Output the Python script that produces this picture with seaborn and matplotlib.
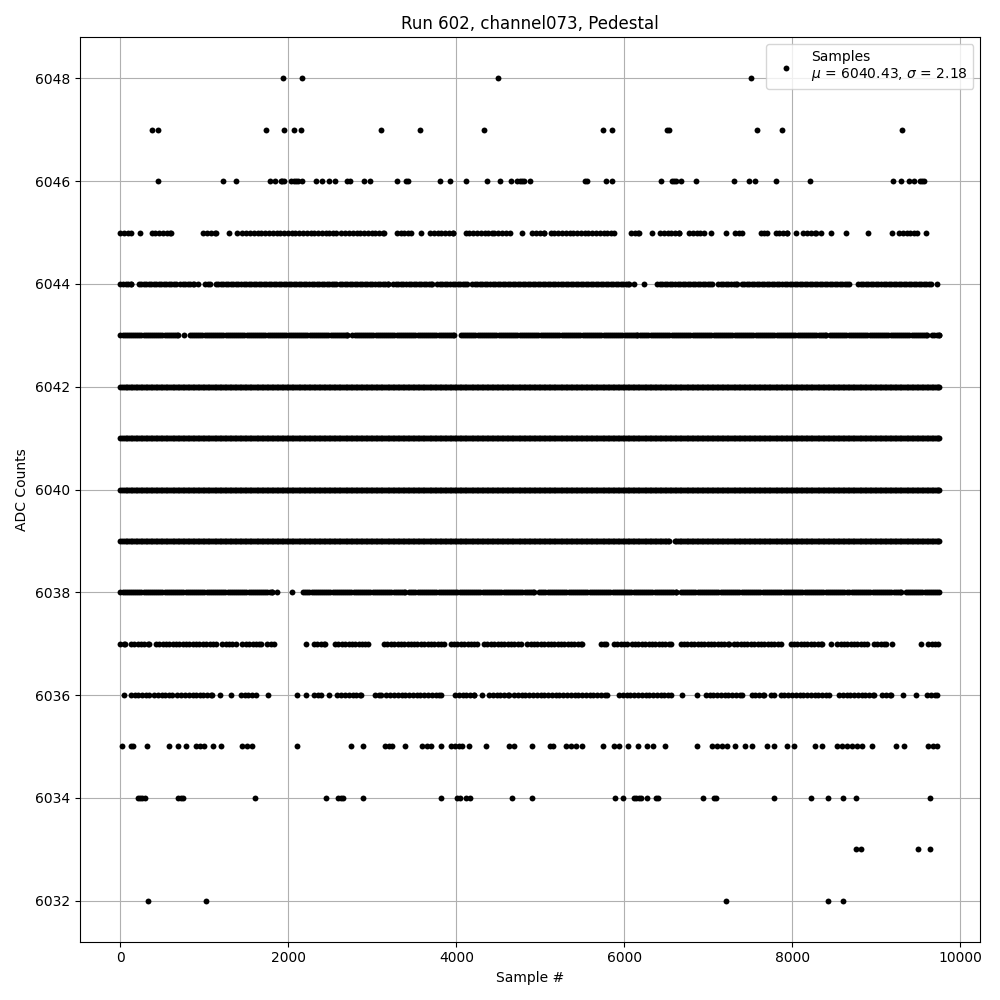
import numpy as np
import pandas as pd
import matplotlib
matplotlib.use("Agg")
import matplotlib.pyplot as plt
import seaborn as sns

# ---- data (sample indices per ADC level) ----
# isolated samples (explicit positions)
pts6048 = [1940, 2167, 4500, 7512]
pts6047 = [373, 441, 1738, 1953, 2072, 2155, 3107, 3572, 4333, 5750, 5858, 6504,
           6528, 7584, 7873, 9310]
pts6046 = [441, 1226, 1381, 1782, 1837, 1909, 1929, 1953, 2036, 2068, 2095, 2119,
           2167, 2333, 2405, 2484, 2552, 2695, 2730, 2905, 2976, 3298, 3401, 3421,
           3810, 3929, 4119, 4369, 4516, 4655, 4726, 4754, 4786, 4810, 4881, 5532,
           5556, 5786, 5858, 6441, 6564, 6588, 6616, 6671, 6858, 7310, 7484, 7552,
           7810, 8215, 9203, 9298, 9389, 9445, 9520, 9548, 9572]
pts6035 = [16, 123, 155, 310, 572, 691, 786, 897, 949, 996, 1103, 1203, 1453, 1512,
           1564, 2107, 2742, 2893, 3151, 3198, 3238, 3389, 3587, 3655, 3695, 3814,
           3933, 3984, 4032, 4072, 4151, 4349, 4627, 4687, 4905, 5112, 5151, 5302,
           5362, 5421, 5493, 5747, 5877, 5937, 6048, 6167, 6274, 6346, 6485, 6869,
           7048, 7108, 7167, 7226, 7314, 7437, 7516, 7703, 7782, 7941, 8020, 8270,
           8357, 8536, 8596, 8655, 8715, 8774, 8834, 8953, 9230, 9330, 9619, 9675,
           9726]
pts6034 = [203, 230, 262, 294, 691, 719, 746, 1607, 2453, 2595, 2623, 2651, 2893,
           3822, 4012, 4040, 4111, 4159, 4667, 4905, 5889, 5989, 6116, 6143, 6175,
           6195, 6274, 6373, 6397, 6937, 7068, 7096, 7786, 8226, 8429, 8607, 8754,
           9635]
pts6033 = [8762, 8822, 9500, 9635]
pts6032 = [322, 1024, 7215, 8429, 8607]

# stretches of consecutive occupied samples (start, end) for the busy levels
runs6045 = [(0, 120), (238, 238), (370, 600), (985, 1135), (1294, 1294), (1393, 1393),
            (1453, 2564), (2631, 3139), (3290, 3457), (3580, 3580), (3686, 3960),
            (4111, 4449), (4500, 4635), (4778, 4778), (4905, 5044), (5123, 5877),
            (6076, 6175), (6334, 6334), (6425, 6651), (6770, 6949), (7028, 7028),
            (7207, 7207), (7318, 7405), (7623, 7703), (7802, 7941), (8040, 8040),
            (8131, 8278), (8338, 8338), (8457, 8457), (8643, 8643), (8905, 8905),
            (9191, 9191), (9270, 9488), (9587, 9587)]
runs6044 = [(0, 123), (215, 660), (710, 877), (929, 929), (1008, 1068), (1135, 2571),
            (2611, 3190), (3250, 3706), (3774, 4131), (4190, 5897), (5929, 6056),
            (6116, 6116), (6235, 6235), (6393, 7048), (7120, 7346), (7397, 8675),
            (8786, 9647), (9726, 9726)]
runs6043 = [(0, 687), (758, 758), (826, 2702), (2762, 3972), (4052, 6155),
            (6187, 8397), (8445, 9607), (9667, 9750)]
runs6042 = [(0, 9750)]
runs6041 = [(0, 9750)]
runs6040 = [(0, 9750)]
runs6039 = [(0, 6530), (6600, 9750)]
runs6038 = [(0, 1810), (1869, 1869), (2048, 2048), (2175, 2920), (2952, 3389),
            (3437, 4925), (4985, 6611), (6671, 8615), (8655, 9290), (9350, 9746)]
runs6037 = [(0, 56), (123, 342), (421, 1135), (1214, 1373), (1453, 1671), (1750, 1830),
            (2207, 2207), (2306, 2437), (2556, 2952), (3139, 3457), (3496, 3853),
            (3933, 4250), (4330, 4766), (4845, 5500), (5719, 5778), (5877, 6036),
            (6088, 6552), (6671, 7246), (7306, 7861), (7980, 8357), (8457, 8457),
            (8536, 8893), (8973, 9111), (9191, 9191), (9528, 9528), (9619, 9738)]
runs6036 = [(44, 44), (123, 342), (401, 619), (679, 977), (1036, 1095), (1183, 1183),
            (1322, 1322), (1433, 1611), (1762, 1762), (2107, 2107), (2207, 2207),
            (2306, 2385), (2484, 2484), (2584, 2861), (3032, 3099), (3167, 3814),
            (3984, 4210), (4310, 4310), (4389, 4627), (4687, 5798), (5937, 6552),
            (6691, 6691), (6869, 6869), (6969, 7405), (7516, 7663), (7742, 7782),
            (7861, 8437), (8556, 8973), (9072, 9171), (9318, 9318), (9469, 9469),
            (9607, 9726)]

mu_text = 6040.43
sigma_text = 2.18


def expand(runs, step):
    out = []
    for a, b in runs:
        seg = list(range(a, b + 1, step))
        if seg[-1] != b:
            seg.append(b)
        out.extend(seg)
    return out


levels = {
    6048: pts6048, 6047: pts6047, 6046: pts6046,
    6045: expand(runs6045, 45), 6044: expand(runs6044, 30),
    6043: expand(runs6043, 25), 6042: expand(runs6042, 20),
    6041: expand(runs6041, 20), 6040: expand(runs6040, 20),
    6039: expand(runs6039, 20), 6038: expand(runs6038, 25),
    6037: expand(runs6037, 40), 6036: expand(runs6036, 45),
    6035: pts6035, 6034: pts6034, 6033: pts6033, 6032: pts6032,
}
rows = [(x, lvl) for lvl, xs in levels.items() for x in xs]
df = pd.DataFrame(rows, columns=["sample", "adc"]).sort_values("sample")

fig, ax = plt.subplots(figsize=(10, 10), dpi=100)
sns.scatterplot(data=df, x="sample", y="adc", color="black", s=18, linewidth=0,
                ax=ax,
                label="Samples\n$\\mu$ = %.2f, $\\sigma$ = %.2f" % (mu_text, sigma_text))
ax.set_title("Run 602, channel073, Pedestal")
ax.set_xlabel("Sample #")
ax.set_ylabel("ADC Counts")
ax.grid(True)
ax.set_axisbelow(True)
ax.legend(loc="upper right")
fig.tight_layout()
fig.savefig("out.png", dpi=100)
